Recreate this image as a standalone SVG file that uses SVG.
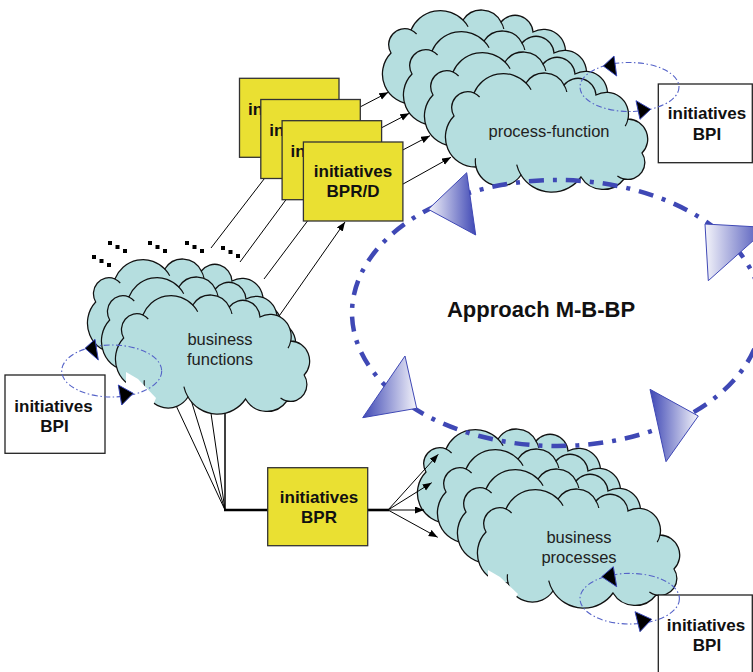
<svg xmlns="http://www.w3.org/2000/svg" width="753" height="672" viewBox="0 0 753 672">
<defs>
<style>
.cf{fill:#B5DEDF;stroke:#111;stroke-width:1.3}
.ci{fill:none;stroke:#111;stroke-width:1.2}
.lbl{font-family:"Liberation Sans",Arial,sans-serif;font-size:16.5px;fill:#222;text-anchor:middle}
.bt{font-family:"Liberation Sans",Arial,sans-serif;font-size:17px;font-weight:bold;fill:#111;text-anchor:middle}
.bts{font-family:"Liberation Sans",Arial,sans-serif;font-size:17px;font-weight:bold;fill:#111}
.ybox{fill:#EAE032;stroke:#333;stroke-width:1.3}
.wbox{fill:#fff;stroke:#222;stroke-width:1.3}
.ln{stroke:#000;stroke-width:1;fill:none}
.ln15{stroke:#000;stroke-width:1.5;fill:none}
.thick{stroke:#000;stroke-width:2.6;fill:none}
.arr{marker-end:url(#ah)}
.loop{fill:none;stroke:#5563C8;stroke-width:1.1;stroke-dasharray:6 2.5 1.5 2.5}
.bh{fill:#000;stroke:#3A48B8;stroke-width:1}
.big{fill:none;stroke:#3F48B5;stroke-width:4.5;stroke-dasharray:15 9 4 9}
.tri{stroke:#3F48B5;stroke-width:1}
.dot{fill:#000}
.wedge{fill:#fff;stroke:none}
</style>
<marker id="ah" markerUnits="userSpaceOnUse" markerWidth="10" markerHeight="8" refX="9" refY="3.5" orient="auto"><path d="M0,0 L9,3.5 L0,7 Z" fill="#000"/></marker>
<linearGradient id="gL" x1="0" y1="0" x2="1" y2="0"><stop offset="0" stop-color="#F4F4FA"/><stop offset="1" stop-color="#3F48B5"/></linearGradient>
<linearGradient id="gR" x1="0" y1="0" x2="1" y2="0"><stop offset="0" stop-color="#3F48B5"/><stop offset="1" stop-color="#F4F4FA"/></linearGradient>
<g id="cloud">
<path class="cf" d="M8,45 A16,16 0 0 1 28,22 A32,32 0 0 1 80,12 A22,22 0 0 1 118,14 A18,18 0 0 1 150,24 A22,22 0 0 1 182,48 A20,20 0 0 1 196,82 A17,17 0 0 1 178,108 A26,26 0 0 1 135,106 A36,36 0 0 1 75,104 A25,25 0 0 1 30,96 A30,30 0 0 1 8,45 Z"/>
<path class="ci" d="M28,22 A16,16 0 0 1 33.6,26 M80,12 A32,32 0 0 1 85.1,18.7 M118,14 A22,22 0 0 1 120.8,21 M182,48 A22,22 0 0 1 179.2,55.1 M178,108 A17,17 0 0 1 171.4,104.9 M75,104 A36,36 0 0 1 70.7,93.6 M30,96 A25,25 0 0 1 29.5,87.3"/>
</g>
</defs>

<g id="process-function">
<use href="#cloud" transform="translate(383,8)"/>
<use href="#cloud" transform="translate(404,29)"/>
<use href="#cloud" transform="translate(425,50)"/>
<use href="#cloud" transform="translate(446,71)"/>
<text class="lbl" x="549" y="137">process-function</text>
</g>

<g id="business-processes">
<use href="#cloud" transform="translate(418,427)"/>
<use href="#cloud" transform="translate(438,447)"/>
<use href="#cloud" transform="translate(458,467)"/>
<use href="#cloud" transform="translate(478,487)"/>
<polygon class="wedge" points="488,570 500,577 518,594 512,604 488,592"/>
<text class="lbl" x="579" y="543">business</text>
<text class="lbl" x="579" y="563">processes</text>
</g>

<g id="connectors">
<g id="dots">
<rect class="dot" x="92" y="255" width="4" height="4"/><rect class="dot" x="99.5" y="259" width="4" height="4"/><rect class="dot" x="107" y="263" width="4" height="4"/>
<rect class="dot" x="108" y="241" width="4" height="4"/><rect class="dot" x="115.5" y="245" width="4" height="4"/><rect class="dot" x="123" y="249" width="4" height="4"/>
<rect class="dot" x="148" y="241" width="4" height="4"/><rect class="dot" x="155.5" y="245" width="4" height="4"/><rect class="dot" x="163" y="249" width="4" height="4"/>
<rect class="dot" x="185" y="241" width="4" height="4"/><rect class="dot" x="192.5" y="245" width="4" height="4"/><rect class="dot" x="200" y="249" width="4" height="4"/>
<rect class="dot" x="221" y="246" width="4" height="4"/><rect class="dot" x="228.5" y="250" width="4" height="4"/><rect class="dot" x="236" y="254" width="4" height="4"/>
</g>
<line class="ln" x1="211" y1="248" x2="281" y2="157"/>
<line class="ln" x1="240" y1="262" x2="302" y2="178"/>
<line class="ln" x1="264" y1="279" x2="324" y2="199"/>
<line class="ln arr" x1="270" y1="329" x2="345" y2="222"/>
<line class="ln arr" x1="340" y1="117.4" x2="388.3" y2="92.3"/>
<line class="ln arr" x1="361" y1="138.5" x2="409.3" y2="113.3"/>
<line class="ln arr" x1="382" y1="160.9" x2="430" y2="135.7"/>
<line class="ln arr" x1="395" y1="188.5" x2="451" y2="157.3"/>
<line class="ln" x1="166.4" y1="385" x2="225" y2="510"/>
<line class="ln" x1="186.4" y1="385" x2="225" y2="510"/>
<line class="ln" x1="206.9" y1="385" x2="225" y2="510"/>
<line class="ln15" x1="225" y1="385" x2="225" y2="510"/>
<line class="thick" x1="224" y1="510" x2="268" y2="510"/>
<line class="thick" x1="368" y1="510" x2="389" y2="510"/>
<line class="ln arr" x1="388" y1="510" x2="438.3" y2="454.3"/>
<line class="ln arr" x1="388" y1="510" x2="431.7" y2="482.7"/>
<line class="ln arr" x1="388" y1="510" x2="424" y2="510"/>
<line class="ln arr" x1="388" y1="510" x2="437.7" y2="537.3"/>
</g>

<g id="business-functions">
<use href="#cloud" transform="translate(88,257) scale(0.96,1)"/>
<use href="#cloud" transform="translate(102,275) scale(0.96,1)"/>
<use href="#cloud" transform="translate(116,293) scale(0.96,1)"/>
<polygon class="wedge" points="126,372 138,379 156,398 152,408 126,400"/>
<text class="lbl" x="220" y="345">business</text>
<text class="lbl" x="220" y="365">functions</text>
</g>

<g id="bprd-stack">
<rect class="ybox" x="239.5" y="78.3" width="99.5" height="79"/>
<text class="bts" x="248" y="114.5">in</text>
<rect class="ybox" x="260.8" y="99.5" width="99.5" height="79"/>
<text class="bts" x="269.3" y="135.7">in</text>
<rect class="ybox" x="282.1" y="120.7" width="99.5" height="79"/>
<text class="bts" x="290.6" y="156.9">in</text>
<rect class="ybox" x="303.4" y="142" width="99.5" height="79"/>
<text class="bt" x="353" y="177.3">initiatives</text>
<text class="bt" x="353" y="197.3">BPR/D</text>
</g>

<g id="bpr">
<rect class="ybox" x="267.7" y="467.7" width="100" height="78"/>
<text class="bt" x="319" y="502.7">initiatives</text>
<text class="bt" x="319" y="523.3">BPR</text>
</g>

<g id="approach">
<ellipse class="big" cx="557" cy="313" rx="205" ry="133"/>
<polygon class="tri" fill="url(#gL)" points="466.7,172.7 428.3,209.3 475.7,235"/>
<polygon class="tri" fill="url(#gL)" points="705,224 768,227.5 708.3,280.7"/>
<polygon class="tri" fill="url(#gR)" points="405,356 416.7,408.3 362.7,417.7"/>
<polygon class="tri" fill="url(#gR)" points="650,389.3 698.3,416 666,461.7"/>
<text class="bt" x="541" y="317" style="font-size:22px">Approach M-B-BP</text>
</g>

<g id="bpi-top">
<rect class="wbox" x="658.3" y="84" width="94" height="78.7"/>
<text class="bt" x="707" y="119">initiatives</text>
<text class="bt" x="707" y="140">BPI</text>
</g>
<g id="bpi-left">
<rect class="wbox" x="5" y="375" width="100" height="78.3"/>
<text class="bt" x="53.5" y="411.7">initiatives</text>
<text class="bt" x="54.5" y="431.7">BPI</text>
</g>
<g id="bpi-bottom">
<rect class="wbox" x="658.3" y="595" width="94" height="82"/>
<text class="bt" x="706" y="630.7">initiatives</text>
<text class="bt" x="707" y="651">BPI</text>
</g>

<g id="bpi-loops">
<ellipse class="loop" cx="629.5" cy="87" rx="49.5" ry="24.5"/>
<polygon class="bh" points="603.3,66 614,56 616.7,76"/>
<polygon class="bh" points="636,100.7 650.7,109.3 640,119.3"/>
<ellipse class="loop" cx="111.7" cy="371" rx="50" ry="26"/>
<polygon class="bh" points="85,348.3 95,339.3 98.3,360"/>
<polygon class="bh" points="118.3,385 133.3,393.3 121.7,405"/>
<ellipse class="loop" cx="629.7" cy="598.7" rx="49.7" ry="25.3"/>
<polygon class="bh" points="601.7,576.7 613.3,566.7 616.7,586.7"/>
<polygon class="bh" points="635,611.7 651.7,619.3 640,631.7"/>
</g>
</svg>
